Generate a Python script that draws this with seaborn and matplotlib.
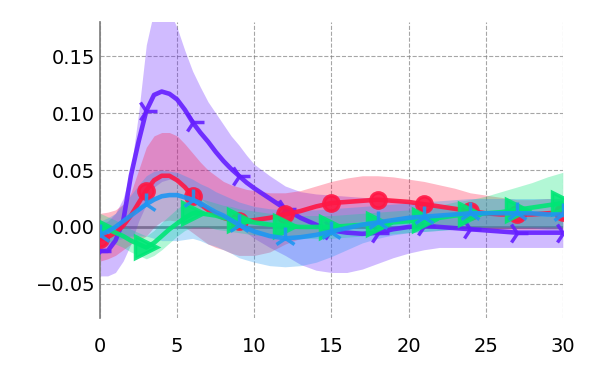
import matplotlib
matplotlib.use("Agg")
import matplotlib.pyplot as plt
import seaborn as sns
import pandas as pd

# half steps up to 10, whole steps after
steps = [0, 0.5, 1, 1.5, 2, 2.5, 3, 3.5, 4, 4.5, 5, 5.5, 6, 6.5, 7, 7.5, 8, 8.5, 9, 9.5, 10,
         11, 12, 13, 14, 15, 16, 17, 18, 19, 20, 21, 22, 23, 24, 25, 26, 27, 28, 29, 30]

purple_mean = [-0.021, -0.021, -0.012, 0.005, 0.045, 0.075, 0.102, 0.116, 0.119, 0.117, 0.112,
               0.103, 0.092, 0.083, 0.075, 0.066, 0.058, 0.051, 0.045, 0.039, 0.034,
               0.025, 0.016, 0.008, 0.002, -0.003, -0.005, -0.006, -0.005, -0.002, 0.000,
               0.001, 0.000, -0.001, -0.002, -0.003, -0.004, -0.005, -0.005, -0.005, -0.005]
purple_low = [-0.043, -0.043, -0.040, -0.030, -0.015, 0.005, 0.020, 0.035, 0.040, 0.042, 0.040,
              0.035, 0.030, 0.025, 0.020, 0.015, 0.010, 0.005, 0.000, -0.005, -0.010,
              -0.018, -0.025, -0.033, -0.038, -0.040, -0.040, -0.037, -0.032, -0.027, -0.023,
              -0.020, -0.018, -0.018, -0.018, -0.018, -0.018, -0.018, -0.018, -0.018, -0.018]
purple_high = [0.003, 0.005, 0.012, 0.025, 0.050, 0.100, 0.160, 0.190, 0.200, 0.190, 0.175,
               0.155, 0.137, 0.123, 0.110, 0.100, 0.090, 0.080, 0.072, 0.063, 0.055,
               0.045, 0.036, 0.031, 0.029, 0.028, 0.027, 0.026, 0.025, 0.024, 0.022,
               0.020, 0.019, 0.017, 0.015, 0.013, 0.012, 0.011, 0.010, 0.010, 0.010]

red_mean = [-0.011, -0.009, -0.005, 0.001, 0.010, 0.021, 0.032, 0.041, 0.045, 0.045, 0.041,
            0.035, 0.027, 0.020, 0.015, 0.011, 0.008, 0.006, 0.005, 0.005, 0.006,
            0.008, 0.011, 0.014, 0.018, 0.021, 0.022, 0.023, 0.024, 0.023, 0.022,
            0.020, 0.018, 0.016, 0.014, 0.012, 0.011, 0.011, 0.011, 0.012, 0.013]
red_low = [-0.030, -0.028, -0.025, -0.020, -0.015, -0.012, -0.008, 0.000, 0.005, 0.006, 0.005,
           0.000, -0.005, -0.010, -0.015, -0.018, -0.020, -0.023, -0.025, -0.025, -0.025,
           -0.022, -0.015, -0.010, -0.005, 0.000, 0.003, 0.005, 0.005, 0.005, 0.004,
           0.003, 0.000, -0.001, -0.002, -0.002, -0.002, -0.002, -0.002, -0.002, -0.002]
red_high = [0.012, 0.013, 0.015, 0.020, 0.030, 0.050, 0.070, 0.080, 0.083, 0.083, 0.080,
            0.073, 0.065, 0.057, 0.050, 0.045, 0.040, 0.037, 0.035, 0.033, 0.032,
            0.030, 0.030, 0.032, 0.036, 0.040, 0.043, 0.045, 0.045, 0.044, 0.042,
            0.040, 0.037, 0.034, 0.030, 0.028, 0.026, 0.024, 0.024, 0.025, 0.025]

green_mean = [0.000, -0.002, -0.005, -0.008, -0.012, -0.015, -0.018, -0.014, -0.008, -0.002, 0.003,
              0.008, 0.012, 0.012, 0.011, 0.010, 0.008, 0.007, 0.006, 0.005, 0.004,
              0.002, 0.001, 0.000, 0.000, 0.000, 0.001, 0.002, 0.003, 0.004, 0.005,
              0.006, 0.008, 0.010, 0.011, 0.012, 0.013, 0.015, 0.017, 0.019, 0.021]
green_low = [-0.010, -0.012, -0.015, -0.018, -0.022, -0.025, -0.028, -0.025, -0.020, -0.014, -0.008,
             -0.003, 0.000, 0.000, 0.000, -0.002, -0.003, -0.004, -0.005, -0.006, -0.007,
             -0.008, -0.009, -0.010, -0.010, -0.010, -0.009, -0.008, -0.007, -0.006, -0.005,
             -0.004, -0.003, -0.002, -0.001, 0.000, 0.000, 0.000, 0.000, 0.000, 0.000]
green_high = [0.012, 0.009, 0.006, 0.002, -0.002, -0.005, -0.008, -0.003, 0.004, 0.010, 0.016,
              0.021, 0.025, 0.025, 0.023, 0.021, 0.019, 0.018, 0.016, 0.015, 0.014,
              0.012, 0.011, 0.010, 0.010, 0.010, 0.011, 0.012, 0.013, 0.014, 0.015,
              0.017, 0.019, 0.022, 0.024, 0.027, 0.031, 0.035, 0.039, 0.044, 0.048]

blue_mean = [-0.007, -0.004, 0.000, 0.005, 0.010, 0.015, 0.020, 0.024, 0.027, 0.028, 0.028,
             0.026, 0.024, 0.021, 0.017, 0.013, 0.010, 0.006, 0.002, -0.001, -0.004,
             -0.008, -0.010, -0.009, -0.007, -0.004, -0.001, 0.002, 0.004, 0.006, 0.008,
             0.009, 0.010, 0.011, 0.012, 0.012, 0.012, 0.012, 0.012, 0.011, 0.011]
blue_low = [-0.020, -0.016, -0.012, -0.010, -0.008, -0.008, -0.008, -0.010, -0.012, -0.012, -0.012,
            -0.011, -0.010, -0.012, -0.015, -0.017, -0.020, -0.023, -0.027, -0.029, -0.031,
            -0.034, -0.035, -0.034, -0.031, -0.026, -0.020, -0.014, -0.010, -0.007, -0.005,
            -0.004, -0.003, -0.002, -0.001, -0.001, -0.001, -0.001, -0.001, -0.002, -0.002]
blue_high = [0.005, 0.008, 0.012, 0.020, 0.028, 0.037, 0.045, 0.049, 0.050, 0.049, 0.048,
             0.045, 0.042, 0.038, 0.035, 0.031, 0.028, 0.025, 0.022, 0.020, 0.018,
             0.016, 0.015, 0.015, 0.015, 0.016, 0.017, 0.018, 0.019, 0.020, 0.021,
             0.022, 0.023, 0.024, 0.025, 0.025, 0.025, 0.025, 0.025, 0.025, 0.025]

series = [
    ("purple", purple_mean, purple_low, purple_high, "#651FFF", "4", 16),
    ("red", red_mean, red_low, red_high, "#FF1744", "o", 11),
    ("green", green_mean, green_low, green_high, "#00E676", ">", 16),
    ("blue", blue_mean, blue_low, blue_high, "#1E96F3", "2", 16),
]

sns.set_theme(style="white")
plt.rcParams['font.family'] = ['DejaVu Sans']
fig = plt.figure(figsize=(6, 3.75), dpi=100)
ax = fig.add_axes([0.1667, 0.152, 0.7713, 0.789])

ax.axhline(0, color="gray", lw=2, zorder=1)

for name, mean, low, high, color, marker, msize in series:
    ax.fill_between(steps, low, high, color=color, alpha=0.3, lw=0, zorder=2)

# a marker every 3 steps
mark_idx = [i for i, s in enumerate(steps) if s % 3 == 0]

for name, mean, low, high, color, marker, msize in series:
    df = pd.DataFrame({"step": steps, "value": mean})
    sns.lineplot(data=df, x="step", y="value", ax=ax, color=color, lw=3.3,
                 marker=marker, markevery=mark_idx, markersize=msize, mew=2.5,
                 markeredgecolor=color, markerfacecolor=color,
                 alpha=0.9, zorder=3)

ax.set_xlim(0, 30)
ax.set_ylim(-0.08, 0.18)
ax.set_xticks([0, 5, 10, 15, 20, 25, 30])
ax.set_yticks([-0.05, 0.0, 0.05, 0.10, 0.15])
ax.set_xlabel("")
ax.set_ylabel("")
ax.grid(True, color="gray", ls="--", lw=0.8, alpha=0.7)
for side in ["top", "right", "bottom"]:
    ax.spines[side].set_visible(False)
ax.spines["left"].set_color("gray")
ax.tick_params(axis="both", labelsize=14, length=0, labelcolor="black")
ax.tick_params(axis="x", pad=14)

fig.savefig("out.png", dpi=100)
